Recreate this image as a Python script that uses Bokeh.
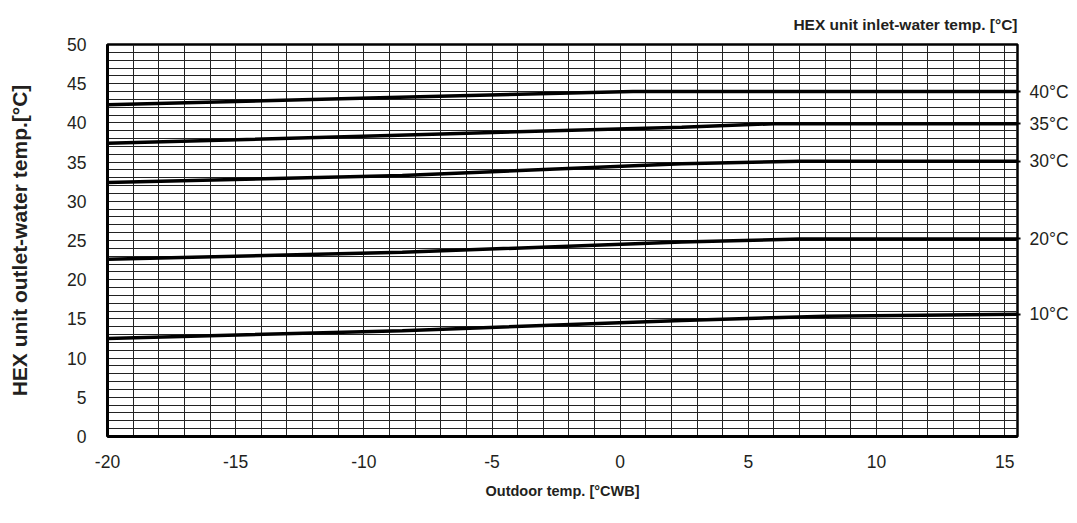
from bokeh.plotting import figure
from bokeh.models import Range1d, FixedTicker, LinearAxis
from bokeh.embed import file_html
from bokeh.resources import INLINE

# ---- data ----
inlet_labels = ["40°C", "35°C", "30°C", "20°C", "10°C"]

x_40 = [-20, -9, 0.5, 15.5]
y_40 = [42.3, 43.25, 44.0, 44.0]

x_35 = [-20, -9, 2.4, 6, 15.5]
y_35 = [37.4, 38.4, 39.45, 39.9, 39.9]

x_30 = [-20, -8.5, 2.4, 7, 15.5]
y_30 = [32.4, 33.3, 34.8, 35.1, 35.1]

x_20 = [-20, -8.5, 2.4, 7, 15.5]
y_20 = [22.6, 23.5, 24.8, 25.2, 25.2]

x_10 = [-20, -8.5, 2.4, 8, 15.5]
y_10 = [12.5, 13.5, 14.8, 15.35, 15.6]

x_ticks = [-20, -15, -10, -5, 0, 5, 10, 15]
y_ticks = [0, 5, 10, 15, 20, 25, 30, 35, 40, 45, 50]

series_x = [x_40, x_35, x_30, x_20, x_10]
series_y = [y_40, y_35, y_30, y_20, y_10]

TOP_TITLE = "HEX unit inlet-water temp. [°C]"
FONT = "Liberation Sans"
TXT = "#231f20"
X_MIN, X_MAX, Y_MIN, Y_MAX = -20, 15.5, 0, 50

p = figure(width=1075, height=520, output_backend="svg", toolbar_location=None,
           x_range=Range1d(X_MIN, X_MAX), y_range=Range1d(Y_MIN, Y_MAX),
           min_border_left=107, min_border_right=58, min_border_top=44,
           min_border_bottom=84)

# top-right heading (inlet-water temperature)
p.title.text = TOP_TITLE
p.title.align = "right"
p.title.text_font = FONT
p.title.text_font_size = "15.5px"
p.title.text_font_style = "bold"
p.title.text_color = TXT
p.title.standoff = 24

# grids every unit
p.xgrid.ticker = FixedTicker(ticks=list(range(-20, 16)))
p.ygrid.ticker = FixedTicker(ticks=list(range(0, 51)))
for g in (p.xgrid, p.ygrid):
    g.grid_line_color = "#222222"
    g.grid_line_width = 1
    g.grid_line_alpha = 1

p.outline_line_color = "black"
p.outline_line_width = 2.5
p.outline_line_alpha = 1

# axes
xax = p.below[0]
yax = p.left[0]
xax.ticker = FixedTicker(ticks=x_ticks)
xax.major_label_overrides = {t: str(t) for t in x_ticks}
yax.ticker = FixedTicker(ticks=y_ticks)
xax.axis_label = "Outdoor temp. [°CWB]"
yax.axis_label = "HEX unit outlet-water temp.[°C]"
for ax in (xax, yax):
    ax.major_tick_line_color = None
    ax.minor_tick_line_color = None
    ax.axis_line_color = "black"
    ax.axis_line_width = 3
    ax.major_label_text_font = FONT
    ax.major_label_text_font_size = "17.5px"
    ax.major_label_text_color = TXT
    ax.axis_label_text_font = FONT
    ax.axis_label_text_font_style = "bold"
    ax.axis_label_text_color = TXT
xax.axis_label_text_font_size = "14.5px"
yax.axis_label_text_font_size = "21px"
xax.major_label_standoff = 12
xax.axis_label_standoff = 12
yax.major_label_standoff = 15
yax.axis_label_standoff = 33

# right axis with inlet-temperature labels at the line ends
ends = [ys[-1] for ys in series_y]
right = LinearAxis(ticker=FixedTicker(ticks=ends),
                   major_label_overrides={e: lab for e, lab in zip(ends, inlet_labels)})
right.axis_line_color = None
right.major_tick_line_color = "black"
right.major_tick_line_width = 2
right.major_tick_out = 3
right.major_tick_in = 0
right.minor_tick_line_color = None
right.major_label_standoff = 9
right.major_label_text_font = FONT
right.major_label_text_font_size = "17.5px"
right.major_label_text_color = TXT
p.add_layout(right, "right")

for xs, ys in zip(series_x, series_y):
    p.line(xs, ys, line_color="black", line_width=3.5)

open("out.html", "w").write(file_html(p, INLINE))
